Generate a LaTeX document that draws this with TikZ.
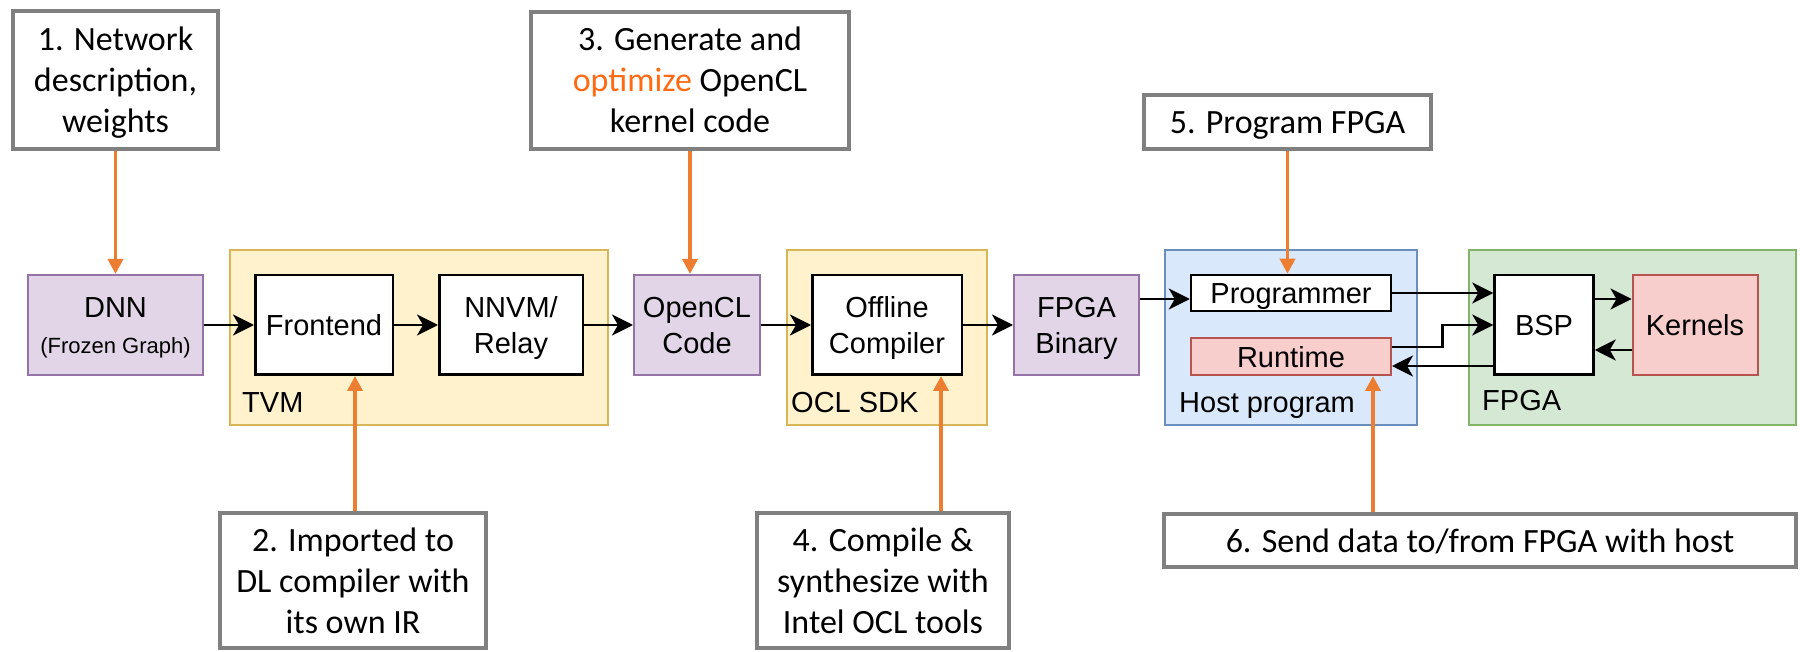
\documentclass[tikz,border=0pt]{standalone}
\usepackage{fontspec}
\setmainfont{Liberation Sans}
\newfontfamily\calloutfont{Carlito}
\usetikzlibrary{arrows.meta}

\definecolor{calloutgray}{HTML}{808080}
\definecolor{steporange}{HTML}{ED7D31}
\definecolor{optorange}{HTML}{FF6A13}
\definecolor{artfill}{HTML}{E1D5E7}
\definecolor{artline}{HTML}{9673A6}
\definecolor{toolfill}{HTML}{FFF2CC}
\definecolor{toolline}{HTML}{D6B656}
\definecolor{hostfill}{HTML}{DAE8FC}
\definecolor{hostline}{HTML}{6C8EBF}
\definecolor{fpgafill}{HTML}{D5E8D4}
\definecolor{fpgaline}{HTML}{82B366}
\definecolor{rtfill}{HTML}{F8CECC}
\definecolor{rtline}{HTML}{B85450}

\newcommand\setfs[2]{\fontsize{#1}{#2}\selectfont}
% line struts that keep the text blocks vertically balanced
\newcommand\cstrut{\rule[-9pt]{0pt}{41pt}}
\newcommand\bstrut{\rule[-7pt]{0pt}{36pt}}

\begin{document}
\begin{tikzpicture}[x=1pt,y=-1pt,
  callout/.style={draw=calloutgray, line width=4pt, fill=white, inner sep=0pt,
    align=center, font=\calloutfont\setfs{34}{41}},
  block/.style={draw=black, line width=2.5pt, fill=white, inner sep=0pt,
    align=center, font=\setfs{29}{36}},
  artifact/.style={block, draw=artline, fill=artfill, line width=2pt},
  container/.style={line width=2pt, inner sep=0pt},
  grouplabel/.style={anchor=base west, inner sep=0pt, font=\setfs{29}{36}},
  flow/.style={line width=2.5pt, -{Stealth[length=21pt,width=21pt,inset=6pt]}},
  stepflow/.style={draw=steporange, line width=3.5pt,
    -{Triangle[length=15pt,width=15pt]}}]

\useasboundingbox (0,0) rectangle (1800,652);

% tool containers
\node[container, draw=toolline, fill=toolfill, minimum width=378pt, minimum height=175pt] (tvm) at (419,337.5) {};
\node[grouplabel] (tvmlbl) at (242,412) {TVM};
\node[container, draw=toolline, fill=toolfill, minimum width=200pt, minimum height=175pt] (sdk) at (887,337.5) {};
\node[grouplabel] (sdklbl) at (791,412) {OCL SDK};
\node[container, draw=hostline, fill=hostfill, minimum width=252pt, minimum height=175pt] (host) at (1291,337.5) {};
\node[grouplabel] (hostlbl) at (1179,412) {Host program};
\node[container, draw=fpgaline, fill=fpgafill, minimum width=327pt, minimum height=175pt] (fpga) at (1632.5,337.5) {};
\node[grouplabel] (fpgalbl) at (1482,410) {FPGA};

% flow blocks
\node[artifact, minimum width=175pt, minimum height=100pt] (dnn) at (115.5,325)
  {DNN\bstrut\\{\setfs{22}{26}(Frozen Graph)\rule[-7pt]{0pt}{10pt}}};
\node[block, minimum width=137.5pt, minimum height=99.5pt] (fe) at (324,325) {Frontend\bstrut};
\node[block, minimum width=143.5pt, minimum height=99.5pt] (nnvm) at (511,325) {NNVM/\bstrut\\Relay\bstrut};
\node[artifact, minimum width=126pt, minimum height=100pt] (ocl) at (697,325) {OpenCL\bstrut\\Code\bstrut};
\node[block, minimum width=149.5pt, minimum height=99.5pt] (aoc) at (887,325) {Offline\bstrut\\Compiler\bstrut};
\node[artifact, minimum width=125pt, minimum height=100pt] (bin) at (1076.5,325) {FPGA\bstrut\\Binary\bstrut};
\node[block, minimum width=200pt, minimum height=36pt] (prog) at (1291,293) {Programmer\bstrut};
\node[block, draw=rtline, fill=rtfill, line width=2pt, minimum width=200pt, minimum height=37pt] (rt) at (1291,356.5) {Runtime\bstrut};
\node[block, minimum width=99pt, minimum height=99.5pt] (bsp) at (1544,325) {BSP\bstrut};
\node[block, draw=rtline, fill=rtfill, line width=2pt, minimum width=125pt, minimum height=100pt] (kern) at (1695,325) {Kernels\bstrut};

% step callouts
\node[callout, minimum width=205pt, minimum height=138pt] (s1) at (115.5,80)
  {1. Network\cstrut\\description,\cstrut\\weights\cstrut};
\node[callout, minimum width=266pt, minimum height=135pt] (s2) at (353,580.5)
  {2. Imported to\cstrut\\DL compiler with\cstrut\\its own IR\cstrut};
\node[callout, minimum width=318pt, minimum height=137pt] (s3) at (690,80.5)
  {3. Generate and\cstrut\\{\color{optorange}optimize} OpenCL\cstrut\\kernel code\cstrut};
\node[callout, minimum width=252pt, minimum height=135pt] (s4) at (883,580.5)
  {4. Compile \&\cstrut\\synthesize with\cstrut\\Intel OCL tools\cstrut};
\node[callout, minimum width=287pt, minimum height=54pt] (s5) at (1287.5,122)
  {5. Program FPGA\cstrut};
\node[callout, minimum width=632pt, minimum height=53pt] (s6) at (1480,540.5)
  {6. Send data to/from FPGA with host\cstrut};

% data flow
\draw[flow] (dnn.east) -- (fe.west);
\draw[flow] (fe.east) -- (nnvm.west);
\draw[flow] (nnvm.east) -- (ocl.west);
\draw[flow] (ocl.east) -- (aoc.west);
\draw[flow] (aoc.east) -- (bin.west);
\draw[flow] ([yshift=26pt]bin.east) -- ([yshift=-6pt]prog.west);
\draw[flow] (prog.east) -- ([yshift=32pt]bsp.west);
\draw[flow] ([yshift=9.5pt]rt.east) -- ++(50.5,0) |- (bsp.west);
\draw[flow] ([yshift=-41pt]bsp.west) -- ([yshift=-9.5pt]rt.east);
\draw[flow] ([yshift=26pt]bsp.east) -- ([yshift=26pt]kern.west);
\draw[flow] ([yshift=-25pt]kern.west) -- ([yshift=-25pt]bsp.east);

% step pointers
\draw[stepflow] (s1.south) -- (dnn.north);
\draw[stepflow] ([xshift=2pt]s2.north) -- ([xshift=31pt]fe.south);
\draw[stepflow] (s3.south) -- ([xshift=-7pt]ocl.north);
\draw[stepflow] ([xshift=58pt]s4.north) -- ([xshift=54pt]aoc.south);
\draw[stepflow] (s5.south) -- ([xshift=-3.5pt]prog.north);
\draw[stepflow] ([xshift=-107pt]s6.north) -- ([xshift=82pt]rt.south);
\end{tikzpicture}
\end{document}
